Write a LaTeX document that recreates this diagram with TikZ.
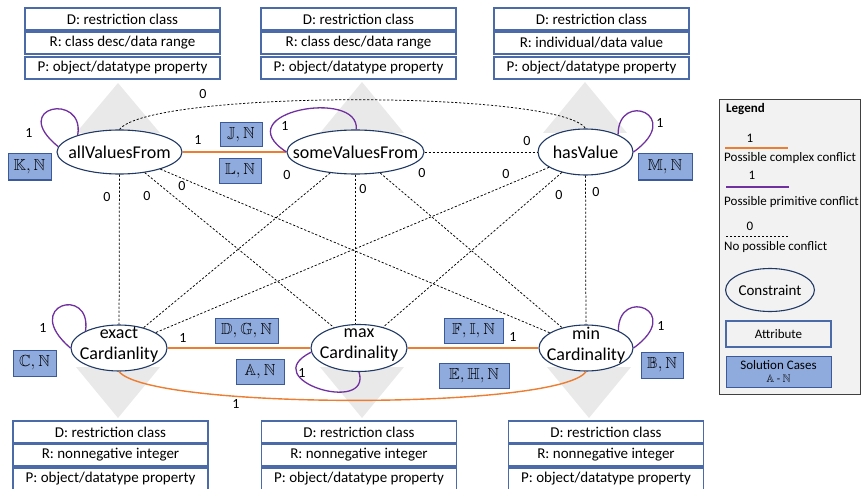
\documentclass[tikz,border=0pt]{standalone}
\usepackage{fontspec}
\setmainfont{Carlito}
\usepackage{amssymb}
\usetikzlibrary{shapes.geometric}
\definecolor{attrc}{HTML}{4A6BA8}
\definecolor{consc}{HTML}{1F3864}
\definecolor{casefill}{HTML}{8FAADC}
\definecolor{casec}{HTML}{3C5A99}
\definecolor{orangec}{HTML}{ED7D31}
\definecolor{purplec}{HTML}{7030A0}
\definecolor{trigray}{HTML}{E9E9E9}
\definecolor{legfill}{HTML}{F2F2F2}
\definecolor{legdraw}{HTML}{404040}
\begin{document}
\begin{tikzpicture}[x=1pt,y=-1pt,
 attr/.style={draw=attrc,line width=1.1pt,fill=white,minimum width=195pt,minimum height=22pt,inner sep=0pt,font=\fontsize{15}{18}\selectfont},
 cons/.style={ellipse,draw=consc,line width=1.1pt,fill=white,inner sep=0pt},
 ctext/.style={align=center,inner sep=0pt,font=\fontsize{18}{21}\selectfont},
 case/.style={draw=casec,fill=casefill,line width=1pt,inner sep=0pt,font=\fontsize{16}{19}\selectfont},
 zero/.style={draw=black,line width=0.75pt,dash pattern=on 2.2pt off 1.8pt},
 cplx/.style={draw=orangec,line width=1.4pt},
 prim/.style={draw=purplec,line width=1.3pt},
 lbl/.style={inner sep=0pt,font=\fontsize{14}{16}\selectfont},
 legtxt/.style={inner sep=0pt,anchor=west,font=\fontsize{13}{15}\selectfont}
]
\useasboundingbox (0,0) rectangle (861,489);
% gray triangles
\fill[trigray] (118,83) -- (76,133) -- (160,133) -- cycle;
\fill[trigray] (362,82) -- (320,133) -- (404,133) -- cycle;
\fill[trigray] (585,82) -- (543,133) -- (627,133) -- cycle;
\fill[trigray] (118,418) -- (76,367) -- (160,367) -- cycle;
\fill[trigray] (362,418) -- (320,367) -- (404,367) -- cycle;
\fill[trigray] (589,418) -- (547,367) -- (631,367) -- cycle;
% attribute boxes top
\node[attr] (a1d) at (122.5,19) {D: restriction class};
\node[attr] (a1r) at (122.5,43) {R: class desc/data range};
\node[attr] (a1p) at (122.5,68) {P: object/datatype property};
\node[attr] (a2d) at (358.5,19) {D: restriction class};
\node[attr] (a2r) at (358.5,43) {R: class desc/data range};
\node[attr] (a2p) at (358.5,68) {P: object/datatype property};
\node[attr] (a3d) at (591.5,19) {D: restriction class};
\node[attr] (a3r) at (591.5,43) {R: individual/data value};
\node[attr] (a3p) at (591.5,68) {P: object/datatype property};
% attribute boxes bottom
\node[attr] (b1d) at (110.5,432) {D: restriction class};
\node[attr] (b1r) at (110.5,455) {R: nonnegative integer};
\node[attr] (b1p) at (110.5,479) {P: object/datatype property};
\node[attr] (b2d) at (359,432) {D: restriction class};
\node[attr] (b2r) at (359,455) {R: nonnegative integer};
\node[attr] (b2p) at (359,479) {P: object/datatype property};
\node[attr] (b3d) at (606,432) {D: restriction class};
\node[attr] (b3r) at (606,455) {R: nonnegative integer};
\node[attr] (b3p) at (606,479) {P: object/datatype property};
% constraint ellipses
\node[cons,minimum width=125pt,minimum height=44pt] (avf) at (119.5,152) {};
\node[cons,minimum width=137pt,minimum height=44pt] (svf) at (355.5,152) {};
\node[cons,minimum width=95pt,minimum height=46pt] (hv) at (585.5,152) {};
\node[cons,minimum width=96pt,minimum height=46pt] (ex) at (119,348) {};
\node[cons,minimum width=96pt,minimum height=47pt] (mx) at (359,348) {};
\node[cons,minimum width=94pt,minimum height=46pt] (mn) at (586,348) {};
% complex conflicts
\draw[cplx] (avf) -- (svf);
\draw[cplx] (ex) -- (mx);
\draw[cplx] (mx) -- (mn);
\draw[cplx] (ex.south) .. controls (150,410) and (560,410) .. (mn.south);
% no conflicts
\draw[zero] (avf.north) .. controls (150,90) and (560,90) .. (hv.north);
\draw[zero] (svf) -- (hv);
\draw[zero] (avf) -- (ex);
\draw[zero] (avf) -- (mx);
\draw[zero] (avf) -- (mn);
\draw[zero] (svf) -- (ex);
\draw[zero] (svf.south) -- (svf.south |- mx.north);
\draw[zero] (svf) -- (mn);
\draw[zero] (hv) -- (ex);
\draw[zero] (hv) -- (mx);
\draw[zero] (hv) -- (mn);
% primitive conflict loops
\draw[prim] (avf.158) .. controls (85,92) and (8,106) .. (avf.175);
\draw[prim] (svf.88) .. controls (360,88) and (225,112) .. (svf.180);
\draw[prim] (hv.28) .. controls (618,90) and (685,115) .. (hv.0);
\draw[prim] (ex.153) .. controls (92,285) and (20,305) .. (ex.180);
\draw[prim] (mx.185) .. controls (255,380) and (372,415) .. (mx.-90);
\draw[prim] (mn.28) .. controls (618,286) and (685,311) .. (mn.0);
% ellipse texts
\node[ctext] (avft) at (avf) {allValuesFrom};
\node[ctext] (svft) at (svf) {someValuesFrom};
\node[ctext] (hvt) at (hv) {hasValue};
\node[ctext] (ext) at (119,345) {exact\\Cardianlity};
\node[ctext] (mxt) at (359,345) {max\\Cardinality};
\node[ctext] (mnt) at (586,345) {min\\Cardinality};
% solution cases
\node[case,minimum width=42pt,minimum height=24pt] (cJ) at (241,135) {$\mathbb{J}, \mathbb{N}$};
\node[case,minimum width=42pt,minimum height=24pt] (cL) at (240,171) {$\mathbb{L}, \mathbb{N}$};
\node[case,minimum width=43pt,minimum height=26pt] (cK) at (29.5,167) {$\mathbb{K}, \mathbb{N}$};
\node[case,minimum width=54pt,minimum height=26pt] (cM) at (665,167) {$\mathbb{M}, \mathbb{N}$};
\node[case,minimum width=43pt,minimum height=26pt] (cC) at (34.5,363) {$\mathbb{C}, \mathbb{N}$};
\node[case,minimum width=63pt,minimum height=25pt] (cD) at (246.5,330.5) {$\mathbb{D}, \mathbb{G}, \mathbb{N}$};
\node[case,minimum width=48pt,minimum height=25pt] (cA) at (260,371.5) {$\mathbb{A}, \mathbb{N}$};
\node[case,minimum width=59pt,minimum height=25pt] (cF) at (473.5,330.5) {$\mathbb{F}, \mathbb{I}, \mathbb{N}$};
\node[case,minimum width=70pt,minimum height=25pt] (cE) at (474,375.5) {$\mathbb{E}, \mathbb{H}, \mathbb{N}$};
\node[case,minimum width=42pt,minimum height=26pt] (cB) at (662,365) {$\mathbb{B}, \mathbb{N}$};
% edge labels
\node[lbl] (l1) at (198,140) {1};
\node[lbl] (l2) at (183,338) {1};
\node[lbl] (l3) at (513,337) {1};
\node[lbl] (l4) at (236,404) {1};
\node[lbl] (l5) at (29,133) {1};
\node[lbl] (l6) at (285,126) {1};
\node[lbl] (l7) at (660,123) {1};
\node[lbl] (l8) at (43,328) {1};
\node[lbl] (l9) at (302,373) {1};
\node[lbl] (l10) at (661,326) {1};
\node[lbl] (z1) at (203,94) {0};
\node[lbl] (z2) at (527,141) {0};
\node[lbl] (z3) at (107,197) {0};
\node[lbl] (z4) at (147,196) {0};
\node[lbl] (z5) at (182,186) {0};
\node[lbl] (z6) at (287,175) {0};
\node[lbl] (z7) at (363,189) {0};
\node[lbl] (z8) at (422,173) {0};
\node[lbl] (z9) at (506,174) {0};
\node[lbl] (z10) at (559,195) {0};
\node[lbl] (z11) at (596,192) {0};
% legend
\node[draw=legdraw,fill=legfill,line width=1pt,minimum width=141pt,minimum height=295pt,inner sep=0pt,anchor=north west] (leg) at (719,99) {};
\node[legtxt,font=\fontsize{13}{15}\selectfont\bfseries] (legt) at (726,109) {Legend};
\node[lbl,font=\fontsize{13}{15}\selectfont] (lg1) at (750,138) {1};
\coordinate (lo1) at (725,148); \coordinate (lo2) at (788,148);
\draw[cplx] (lo1) -- (lo2);
\node[legtxt] (lgc) at (724,158) {Possible complex conflict};
\node[lbl,font=\fontsize{13}{15}\selectfont] (lg2) at (752,175) {1};
\coordinate (lp1) at (726,187); \coordinate (lp2) at (789,187);
\draw[prim] (lp1) -- (lp2);
\node[legtxt] (lgp) at (724,202) {Possible primitive conflict};
\node[lbl,font=\fontsize{13}{15}\selectfont] (lg3) at (750,226) {0};
\coordinate (ld1) at (726,236); \coordinate (ld2) at (789,236);
\draw[zero] (ld1) -- (ld2);
\node[legtxt] (lgn) at (724,247) {No possible conflict};
\node[ellipse,draw=consc,line width=1.1pt,inner sep=0pt,minimum width=88pt,minimum height=43pt,font=\fontsize{15}{18}\selectfont] (lgcons) at (770,290) {Constraint};
\node[draw=attrc,line width=1.1pt,inner sep=0pt,minimum width=105pt,minimum height=26pt,font=\fontsize{13}{15}\selectfont] (lgattr) at (778.5,334) {Attribute};
\node[draw=casec,fill=casefill,line width=1pt,inner sep=0pt,minimum width=105pt,minimum height=31pt,align=center,font=\fontsize{13}{14}\selectfont] (lgcase) at (778.5,371.5) {Solution Cases\\[-1pt]{\fontsize{11}{12}\selectfont$\mathbb{A}$ - $\mathbb{N}$}};
\end{tikzpicture}
\end{document}
